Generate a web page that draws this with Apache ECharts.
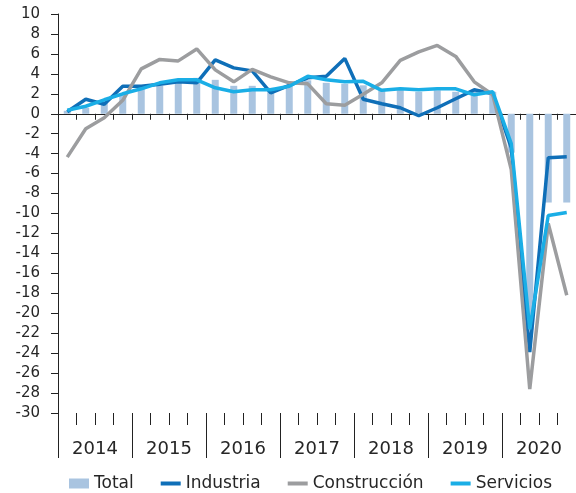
<!DOCTYPE html>
<html>
<head>
<meta charset="utf-8">
<script src="https://cdn.jsdelivr.net/npm/echarts@6/dist/echarts.min.js"></script>
<style>
  html, body { margin: 0; padding: 0; background: #fff; }
  #chart { width: 576px; height: 493px; }
</style>
</head>
<body>
<div id="chart"></div>
<script>
var years = ["2014", "2015", "2016", "2017", "2018", "2019", "2020"];
var quarters = [];
for (var y = 0; y < years.length; y++) {
  for (var q = 1; q <= 4; q++) quarters.push(years[y] + "T" + q);
}

var total = [0.3, 0.6, 1.3, 2.0, 2.6, 2.8, 3.2, 3.6, 3.4, 2.8, 2.8, 2.6, 2.85, 3.35,
  3.1, 3.0, 2.85, 2.35, 2.35, 2.2, 2.35, 2.2, 2.4, 2.2, -3.9, -21.6, -8.9, -8.9];
var industria = [0.2, 1.45, 0.95, 2.75, 2.75, 2.95, 3.2, 3.1, 5.4, 4.6, 4.3, 2.1, 2.85,
  3.6, 3.75, 5.55, 1.45, 1.0, 0.6, -0.2, 0.6, 1.5, 2.4, 2.0, -3.4, -23.9, -4.4, -4.3];
var construccion = [-4.35, -1.5, -0.4, 1.35, 4.5, 5.45, 5.3, 6.5, 4.4, 3.2, 4.45, 3.7,
  3.1, 3.0, 1.0, 0.85, 1.95, 3.1, 5.35, 6.2, 6.85, 5.75, 3.2, 1.9, -5.6, -27.6, -11.0, -18.2];
var servicios = [0.35, 0.75, 1.4, 2.0, 2.5, 3.1, 3.4, 3.4, 2.6, 2.2, 2.4, 2.4, 2.75,
  3.75, 3.4, 3.2, 3.25, 2.35, 2.5, 2.4, 2.5, 2.5, 1.9, 2.2, -3.0, -21.6, -10.2, -9.9];

var font = "DejaVu Sans";
var txt = "#262626";
var lineIcon = "path://M0,0 L20,0 L20,4 L0,4 Z";

var chart = echarts.init(document.getElementById("chart"));

var option = {
  animation: false,
  grid: { left: 58, right: -3.5, top: 14, bottom: 80, containLabel: false },
  legend: {
    top: 470,
    left: 64,
    itemWidth: 20,
    itemHeight: 10,
    itemGap: 27,
    textStyle: { fontFamily: font, fontSize: 17, color: txt },
    data: [
      { name: "Total", icon: "rect" },
      { name: "Industria", icon: lineIcon },
      { name: "Construcción", icon: lineIcon },
      { name: "Servicios", icon: lineIcon },
    ],
  },
  xAxis: [
    {
      // quarter ticks on the zero line
      type: "category",
      data: quarters,
      axisLine: { onZero: true, lineStyle: { color: "#222", width: 1 } },
      axisTick: { show: true, interval: 0, length: 6, lineStyle: { color: "#222" } },
      axisLabel: { show: false, interval: 0 },
      splitLine: { show: false },
    },
    {
      // quarter ticks at the bottom
      type: "category",
      data: quarters,
      position: "bottom",
      axisLine: { show: false, onZero: false },
      axisTick: { show: true, interval: 0, length: 12, lineStyle: { color: "#222" } },
      axisLabel: { show: false, interval: 0 },
      splitLine: { show: false },
    },
    {
      // years with long separators
      type: "category",
      data: years,
      position: "bottom",
      axisLine: { show: false, onZero: false },
      axisTick: { show: true, interval: 0, length: 45, lineStyle: { color: "#222" } },
      axisLabel: { interval: 0, margin: 27, fontFamily: font, fontSize: 18, color: txt },
      splitLine: { show: false },
    },
  ],
  yAxis: {
    type: "value",
    min: -30,
    max: 10,
    interval: 2,
    axisLine: { show: true, lineStyle: { color: "#222", width: 1 } },
    axisTick: { show: true, length: 7, lineStyle: { color: "#222" } },
    axisLabel: { margin: 18, fontFamily: font, fontSize: 15, color: txt },
    splitLine: { show: false },
  },
  series: [
    {
      name: "Total",
      type: "bar",
      xAxisIndex: 0,
      barWidth: 7,
      itemStyle: { color: "#a9c4e0" },
      data: total,
    },
    {
      name: "Industria",
      type: "line",
      xAxisIndex: 0,
      showSymbol: false,
      symbol: "none",
      color: "#0f6fb8",
      lineStyle: { width: 3.5, color: "#0f6fb8" },
      data: industria,
    },
    {
      name: "Construcción",
      type: "line",
      xAxisIndex: 0,
      showSymbol: false,
      symbol: "none",
      color: "#9c9d9f",
      lineStyle: { width: 3.5, color: "#9c9d9f" },
      data: construccion,
    },
    {
      name: "Servicios",
      type: "line",
      xAxisIndex: 0,
      showSymbol: false,
      symbol: "none",
      color: "#1aaee6",
      lineStyle: { width: 3.5, color: "#1aaee6" },
      data: servicios,
    },
  ],
};

chart.setOption(option);
</script>
</body>
</html>
